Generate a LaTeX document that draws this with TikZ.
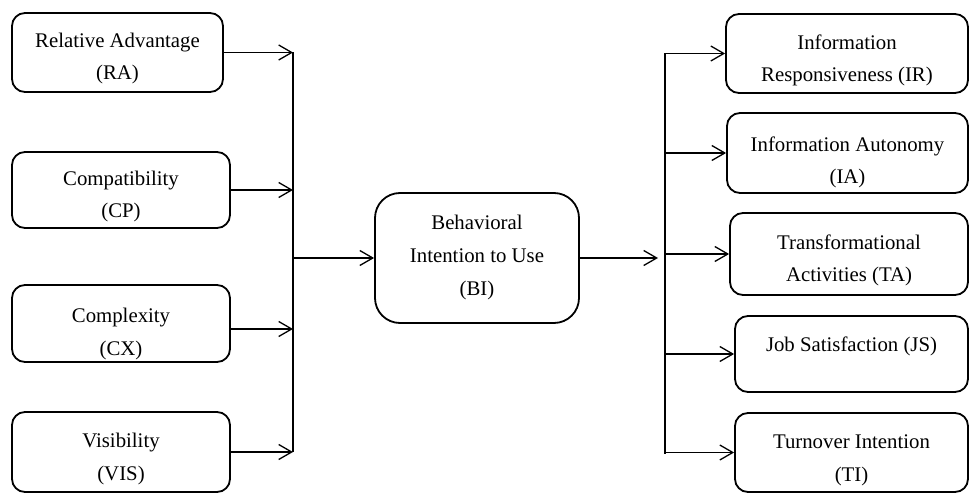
\documentclass[tikz,border=0pt]{standalone}
\usepackage{fontspec}
\setmainfont{Liberation Serif}
\usetikzlibrary{arrows.meta}
\begin{document}
\begin{tikzpicture}[x=1bp,y=-1bp,
  box/.style={draw, line width=1.8bp, rounded corners=13bp, align=center, inner sep=0pt,
    font=\fontsize{20.8bp}{32.5bp}\selectfont, text height=0pt, text depth=0pt},
  ht/.style={text height=#1},
  dp/.style={text depth=#1},
  ln/.style={line width=1.3bp},
  arr/.style={line width=1.3bp, -{Straight Barb[length=13bp,width=15bp,line width=1.3bp]}}]
\useasboundingbox (0,0) rectangle (970,494);
% left column
\node[box, minimum width=211bp, minimum height=79bp, ht=55bp] (ra) at (117.5,52.5) {Relative Advantage\\(RA)};
\node[box, minimum width=218bp, minimum height=76bp, ht=56bp] (cp) at (121,190) {Compatibility\\(CP)};
\node[box, minimum width=218bp, minimum height=77bp, ht=63bp] (cx) at (121,323.5) {Complexity\\(CX)};
\node[box, minimum width=218bp, minimum height=80bp, ht=56bp] (vis) at (121,452) {Visibility\\(VIS)};
% centre
\node[box, rounded corners=25bp, minimum width=204bp, minimum height=130bp, ht=74bp] (bi) at (477,258) {Behavioral\\Intention to Use\\(BI)};
% right column
\node[box, minimum width=242bp, minimum height=79bp, ht=57bp] (ir) at (847,53.5) {Information\\Responsiveness (IR)};
\node[box, minimum width=241bp, minimum height=80bp, ht=62bp] (ia) at (847.5,153) {Information Autonomy\\(IA)};
\node[box, minimum width=238bp, minimum height=82bp, ht=56bp] (ta) at (849,254) {Transformational\\Activities (TA)};
\node[box, minimum width=233bp, minimum height=76bp, dp=4bp] (js) at (851.5,354) {Job Satisfaction (JS)};
\node[box, minimum width=233bp, minimum height=79bp, ht=57bp] (ti) at (851.5,452.5) {Turnover Intention\\(TI)};
% left bus
\coordinate (lt) at (293,52.5);
\coordinate (lb) at (293,452);
\coordinate (lm) at (293,258);
\draw[ln] (lt) -- (lb);
\draw[arr] (ra.east) -- (ra.east -| lt);
\draw[arr] (cp.east) -- (cp.east -| lt);
\draw[arr] ([yshift=-5.5bp]cx.east) -- ([yshift=-5.5bp]cx.east -| lt);
\draw[arr] (vis.east) -- (vis.east -| lt);
\draw[arr] (lm) -- (bi.west);
% right bus
\coordinate (bo) at (658,258);
\draw[arr] (bi.east) -- (bo);
\coordinate (rt) at (665,53.5);
\coordinate (rb) at (665,453.5);
\draw[ln] (rt) -- (rb);
\draw[arr] (ir.west -| rt) -- (ir.west);
\draw[arr] (ia.west -| rt) -- (ia.west);
\draw[arr] (ta.west -| rt) -- (ta.west);
\draw[arr] (js.west -| rt) -- (js.west);
\draw[arr] (ti.west -| rt) -- (ti.west);
\end{tikzpicture}
\end{document}
